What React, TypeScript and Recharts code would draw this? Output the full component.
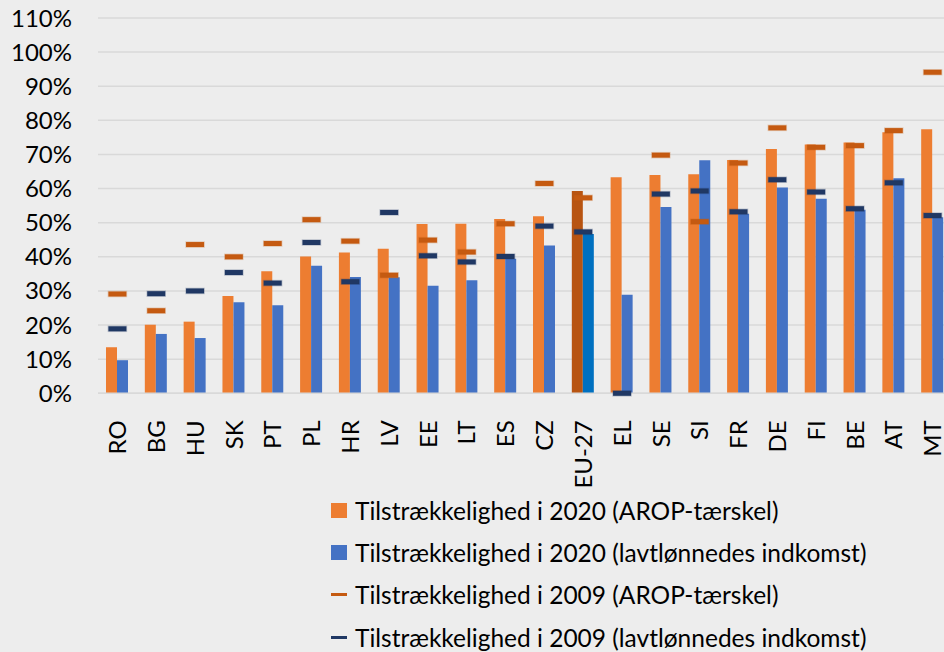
import {
  Bar,
  CartesianGrid,
  Cell,
  ComposedChart,
  Line,
  XAxis,
  YAxis,
} from 'recharts';

const countries = [
  'RO', 'BG', 'HU', 'SK', 'PT', 'PL', 'HR', 'LV', 'EE', 'LT', 'ES',
  'CZ', 'EU-27', 'EL', 'SE', 'SI', 'FR', 'DE', 'FI', 'BE', 'AT', 'MT',
];
// adequacy 2020, AROP threshold (%)
const arop2020 = [
  13.5, 20.1, 21.0, 28.5, 35.8, 40.1, 41.3, 42.4, 49.6, 49.7, 51.1,
  51.9, 59.3, 63.3, 64.0, 64.2, 68.4, 71.6, 72.9, 73.5, 76.5, 77.4,
];
// adequacy 2020, low-wage earners' income (%)
const low2020 = [
  9.7, 17.4, 16.2, 26.7, 25.8, 37.4, 34.1, 34.0, 31.5, 33.1, 39.4,
  43.3, 46.7, 28.9, 54.6, 68.3, 52.6, 60.3, 57.0, 53.8, 63.0, 51.6,
];
const arop2009: (number | null)[] = [
  29.1, 24.2, 43.6, 40.0, 43.9, 50.9, 44.6, 34.6, 44.9, 41.4, 49.7,
  61.5, 57.3, null, 69.8, 50.3, 67.5, 77.8, 72.1, 72.6, 77.0, 94.1,
];
const low2009 = [
  18.9, 29.2, 30.0, 35.4, 32.3, 44.2, 32.7, 53.0, 40.3, 38.5, 40.1,
  49.0, 47.3, 0, 58.4, 59.3, 53.2, 62.6, 59.0, 54.1, 61.7, 52.1,
];
const yTicks = [0, 10, 20, 30, 40, 50, 60, 70, 80, 90, 100, 110];

const legendItems = [
  { label: 'Tilstrækkelighed i 2020 (AROP-tærskel)', color: '#ED7D31', kind: 'box' },
  { label: 'Tilstrækkelighed i 2020 (lavtlønnedes indkomst)', color: '#4472C4', kind: 'box' },
  { label: 'Tilstrækkelighed i 2009 (AROP-tærskel)', color: '#C55A11', kind: 'dash' },
  { label: 'Tilstrækkelighed i 2009 (lavtlønnedes indkomst)', color: '#203864', kind: 'dash' },
];

const FONT = 'Lato, "Open Sans", sans-serif';
const EU = 'EU-27';

const data = countries.map((c, i) => ({
  name: c,
  arop2020: arop2020[i],
  low2020: low2020[i],
  arop2009: arop2009[i],
  low2009: low2009[i],
}));

function dash(color: string) {
  return (props: any) => {
    const { cx, cy, index } = props;
    if (cy == null || Number.isNaN(cy) || props.value == null) return <g key={index} />;
    return (
      <rect
        key={index}
        x={cx - 9}
        y={cy - 2.5}
        width={18}
        height={5}
        fill={color}
        stroke={color}
        strokeOpacity={0.25}
        strokeWidth={1.5}
      />
    );
  };
}

function CountryTick(props: any) {
  const { x, y, payload } = props;
  return (
    <text
      transform={`translate(${x},${y + 19}) rotate(-90)`}
      textAnchor="end"
      dy="0.36em"
      fontSize={24}
      fontFamily={FONT}
      fill="#000"
    >
      {payload.value}
    </text>
  );
}

function LegendBox() {
  return (
    <div
      style={{
        position: 'absolute',
        left: 331,
        top: 489,
        fontFamily: FONT,
        fontSize: 24.5,
        color: '#000',
      }}
    >
      {legendItems.map((it) => (
        <div
          key={it.label}
          style={{ display: 'flex', alignItems: 'center', height: 42.3, whiteSpace: 'nowrap' }}
        >
          <span
            style={{
              display: 'inline-block',
              width: 16,
              height: it.kind === 'box' ? 15 : 3,
              background: it.color,
              marginRight: 8,
            }}
          />
          <span>{it.label}</span>
        </div>
      ))}
    </div>
  );
}

export default function App() {
  return (
    <div
      style={{
        position: 'fixed',
        left: 0,
        top: 0,
        width: 944,
        height: 652,
        overflow: 'hidden',
        background: '#EDEDED',
      }}
    >
      <ComposedChart
        width={952}
        height={652}
        data={data}
        margin={{ top: 18, right: 0, bottom: 158.7, left: 0 }}
        barGap={0}
        barSize={11}
      >
        <CartesianGrid vertical={false} stroke="#D9D9D9" strokeWidth={1.5} />
        <XAxis
          dataKey="name"
          interval={0}
          height={100}
          axisLine={{ stroke: '#D9D9D9', strokeWidth: 1.5 }}
          tickLine={false}
          tick={<CountryTick />}
        />
        <YAxis
          width={98}
          domain={[0, 110]}
          ticks={yTicks}
          interval={0}
          axisLine={false}
          tickLine={false}
          tickSize={6}
          tickMargin={20}
          tickFormatter={(v: number) => `${v}%`}
          tick={{ fontSize: 24, fontFamily: FONT, fill: '#000' }}
        />
        <Bar dataKey="arop2020" fill="#ED7D31" isAnimationActive={false}>
          {data.map((d) => (
            <Cell key={d.name} fill={d.name === EU ? '#B85411' : '#ED7D31'} />
          ))}
        </Bar>
        <Bar dataKey="low2020" fill="#4472C4" isAnimationActive={false}>
          {data.map((d) => (
            <Cell key={d.name} fill={d.name === EU ? '#0070C0' : '#4472C4'} />
          ))}
        </Bar>
        <Line
          dataKey="arop2009"
          stroke="none"
          dot={dash('#C55A11')}
          activeDot={false}
          isAnimationActive={false}
        />
        <Line
          dataKey="low2009"
          stroke="none"
          dot={dash('#203864')}
          activeDot={false}
          isAnimationActive={false}
        />
      </ComposedChart>
      <LegendBox />
    </div>
  );
}
